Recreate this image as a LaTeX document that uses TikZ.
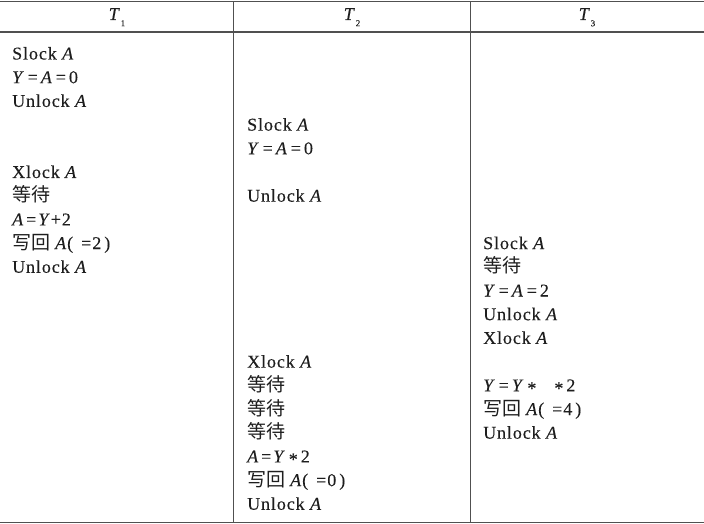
\documentclass[tikz,border=0pt]{standalone}
\usepackage{fontspec}
\setmainfont{Liberation Serif}[LetterSpace=5,FakeBold=0.2]
\newfontfamily\cjk{Noto Sans CJK SC}
\newcommand{\bodyf}{\fontsize{18}{22}\selectfont}
\newcommand{\hdrf}{\fontsize{18}{20}\selectfont}
\newcommand{\zh}[1]{{\cjk\fontsize{19}{22}\selectfont #1}}
\newcommand{\vi}[1]{\textit{#1}}
\newcommand{\astx}{\raisebox{-0.35ex}{*}}
\newcommand{\subn}[1]{\raisebox{-0.75ex}{\fontsize{9}{10}\selectfont #1}}
\newcommand{\wb}[1]{\zh{写回}\hspace{5pt}\vi{A}(\kern8pt=\kern1pt#1\kern3pt)}
\definecolor{ink}{HTML}{1E1E1E}
\definecolor{rulec}{HTML}{505050}
\begin{document}
\begin{tikzpicture}[x=1pt,y=-1pt,
  cell/.style={anchor=base west, inner sep=0pt, font=\bodyf, text=ink},
  hdr/.style={anchor=base, inner sep=0pt, font=\hdrf, text=ink},
  tabrule/.style={draw=rulec, line width=1.1pt}]
\useasboundingbox (0,0) rectangle (704,524);
% rules
\coordinate (tl) at (0,1.5); \coordinate (tr) at (704,1.5);
\coordinate (hl) at (0,32); \coordinate (hr) at (704,32);
\coordinate (bl) at (0,522.5); \coordinate (br) at (704,522.5);
\coordinate (v1t) at (233.5,1.5); \coordinate (v1b) at (233.5,522.5);
\coordinate (v2t) at (470.5,1.5); \coordinate (v2b) at (470.5,522.5);
\draw[tabrule] (tl) -- (tr);
\draw[tabrule] (hl) -- (hr);
\draw[tabrule] (bl) -- (br);
\draw[tabrule] (v1t) -- (v1b);
\draw[tabrule] (v2t) -- (v2b);
% headers
\node[hdr] (h1) at (117,20) {\vi{T}\subn{1}};
\node[hdr] (h2) at (352,20) {\vi{T}\subn{2}};
\node[hdr] (h3) at (587,20) {\vi{T}\subn{3}};
% T1
\node[cell] (a0) at (12,59.5)  {Slock \vi{A}};
\node[cell] (a1) at (12,83.2)  {\vi{Y}\,=\,\vi{A}\,=\,0};
\node[cell] (a2) at (12,106.9) {Unlock \vi{A}};
\node[cell] (a5) at (12,178.0) {Xlock \vi{A}};
\node[cell] (a6) at (12,201.7) {\zh{等待}};
\node[cell] (a7) at (12,225.4) {\vi{A}\kern2pt=\kern2pt\vi{Y}+2};
\node[cell] (a8) at (12,249.1) {\wb{2}};
\node[cell] (a9) at (12,272.8) {Unlock \vi{A}};
% T2
\node[cell] (b3)  at (247,130.6) {Slock \vi{A}};
\node[cell] (b4)  at (247,154.3) {\vi{Y}\,=\,\vi{A}\,=\,0};
\node[cell] (b6)  at (247,201.7) {Unlock \vi{A}};
\node[cell] (b13) at (247,367.6) {Xlock \vi{A}};
\node[cell] (b14) at (247,391.3) {\zh{等待}};
\node[cell] (b15) at (247,415.0) {\zh{等待}};
\node[cell] (b16) at (247,438.7) {\zh{等待}};
\node[cell] (b17) at (247,462.4) {\vi{A}\kern2pt=\kern2pt\vi{Y}\,\astx\,2};
\node[cell] (b18) at (247,486.1) {\wb{0}};
\node[cell] (b19) at (247,509.8) {Unlock \vi{A}};
% T3
\node[cell] (c8)  at (483,249.1) {Slock \vi{A}};
\node[cell] (c9)  at (483,272.8) {\zh{等待}};
\node[cell] (c10) at (483,296.5) {\vi{Y}\,=\,\vi{A}\,=\,2};
\node[cell] (c11) at (483,320.2) {Unlock \vi{A}};
\node[cell] (c12) at (483,343.9) {Xlock \vi{A}};
\node[cell] (c14) at (483,391.3) {\vi{Y}\,=\,\vi{Y}\,\astx\quad\astx\,2};
\node[cell] (c15) at (483,415.0) {\wb{4}};
\node[cell] (c16) at (483,438.7) {Unlock \vi{A}};
\end{tikzpicture}
\end{document}
